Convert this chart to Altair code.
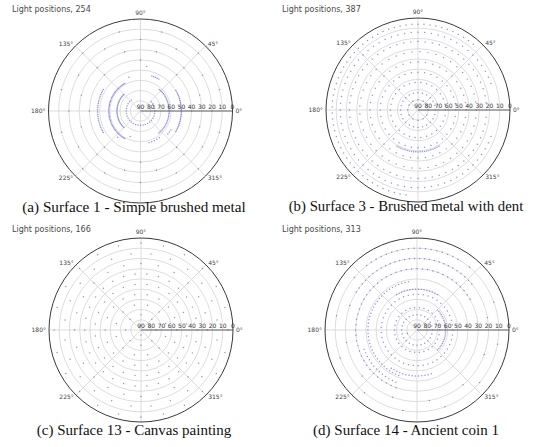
import altair as alt
import pandas as pd
import math

# ---- light positions: (elevation in degrees, azimuths in degrees) ----
panel_a = [
    (76, [130, 140, 150, 160, 170, 180, 190, 200, 210, 220, 230, 240, 250, 260, 270, 280,
          290, 300, 310, 320, 330, 340, 350, 0, 10, 20, 30, 40]),
    (48, [150, 152.5, 155, 157.5, 160, 162.5, 165, 167.5, 170, 172.5, 175, 177.5, 180,
          182.5, 185, 187.5, 190, 192.5, 195, 197.5, 200, 202.5, 205, 207.5, 210]),
    (59, [120, 122.5, 125, 127.5, 130, 132.5, 135, 137.5, 140, 142.5, 145, 147.5, 150,
          152.5, 155, 157.5, 160, 162.5, 165, 167.5, 170, 172.5, 175, 177.5, 180, 182.5,
          185, 187.5, 190, 192.5, 195, 197.5, 200, 202.5, 205, 207.5, 210, 212.5, 215,
          217.5, 220, 222.5, 225, 227.5, 230, 232.5, 235, 237.5, 240]),
    (67, [135, 138, 141, 144, 147, 150, 153, 156, 159, 162, 165, 168, 171, 174, 177, 180,
          183, 186, 189, 192, 195, 198, 201, 204, 207, 210, 213, 216, 219, 222, 225]),
    (62, [-50, -47, -44, -41, -38, -35, -32, -29, -26, -23, -20, -17, -14, -11, -8, -5, -2,
          1, 4, 7, 10, 13, 16, 19, 22, 25, 28, 31, 34, 37, 40, 43, 46, 49]),
    (50, [-30, -27.5, -25, -22.5, -20, -17.5, -15, -12.5, -10, -7.5, -5, -2.5, 0, 2.5, 5,
          7.5, 10, 12.5, 15, 17.5, 20, 22.5, 25, 27.5, 30]),
    (55, [-40, -36, -32, 109]),
    (54, [60, 63, 66, 69, 72]),
    (46, [82]),
    (58, [-55, -60, -65, -70, -75]),
    (63, [-112]),
    (56, [229]),
    (10, [15, 45, 75, 105, 135, 165, 195, 225, 255, 285, 315, 345]),
    (20, [0, 30, 60, 90, 120, 150, 180, 210, 240, 270, 300, 330]),
    (30, [15, 45, 75, 105, 135, 165, 195, 225, 255, 285, 315, 345]),
    (40, [0, 45, 90, 135, 180, 225, 270, 315]),
]

panel_b = [
    (6, [50, 54, 58, 62, 66, 70, 74, 78, 82, 86, 90, 94, 98, 102, 106, 110, 114, 118, 122,
         126, 130, 134, 138, 142, 146, 150, 154, 158, 162, 166, 170, 174, 178, 182, 186,
         190, 194, 198, 202, 206, 210, 214, 218, 222, 226, 230, 234, 238, 242, 246, 250,
         254, 258, 262]),
    (14, [20, 25, 30, 35, 40, 45, 50, 55, 60, 65, 70, 75, 80, 85, 90, 95, 100, 105, 110,
          115, 120, 125, 130, 135, 140, 145, 150, 155, 160, 165, 170, 175, 180, 185, 190,
          195, 200, 205, 210, 215, 220, 225, 230, 235, 240, 245, 250, 255, 260, 265, 270,
          275, 280, 285, 290, 295, 300, 305, 310, 315, 320, 325, 330, 335, 340]),
    (23, [0, 6, 12, 18, 24, 30, 36, 42, 48, 54, 60, 66, 72, 78, 84, 90, 96, 102, 108, 114,
          120, 126, 132, 138, 144, 150, 156, 162, 168, 174, 180, 186, 192, 198, 204, 210,
          216, 222, 228, 234, 240, 246, 252, 258, 264, 270, 276, 282, 288, 294, 300, 306,
          312, 318, 324, 330, 336, 342, 348, 354]),
    (33, [0, 8, 16, 24, 32, 40, 48, 56, 64, 72, 80, 88, 96, 104, 112, 120, 128, 136, 144,
          152, 160, 168, 176, 184, 192, 200, 208, 216, 224, 232, 240, 248, 256, 264, 272,
          280, 288, 296, 304, 312, 320, 328, 336, 344, 352]),
    (43, [0, 9, 18, 27, 36, 45, 54, 63, 72, 81, 90, 99, 108, 117, 126, 135, 144, 153, 162,
          171, 180, 189, 198, 207, 216, 225, 234, 243, 252, 261, 270, 279, 288, 297, 306,
          315, 324, 333, 342, 351]),
    (53, [0, 10, 20, 30, 40, 50, 60, 70, 80, 90, 100, 110, 120, 130, 140, 150, 160, 170,
          180, 190, 200, 210, 220, 230, 240, 250, 260, 270, 280, 290, 300, 310, 320, 330,
          340, 350]),
    (63, [0, 12, 24, 36, 48, 60, 72, 84, 96, 108, 120, 132, 144, 156, 168, 180, 192, 204,
          216, 228, 240, 252, 264, 276, 288, 300, 312, 324, 336, 348]),
    (73, [0, 15, 30, 45, 60, 75, 90, 105, 120, 135, 150, 165, 180, 195, 210, 225, 240, 255,
          270, 285, 300, 315, 330, 345]),
    (80, [0, 30, 60, 90, 120, 150, 180, 210, 240, 270, 300, 330]),
    (49, [240, 243, 246, 249, 252, 255, 258, 261, 264, 267, 270, 273, 276, 279, 282, 285,
          288, 291, 294, 297, 300]),
]

panel_c = [
    (5, [0, 15, 30, 45, 60, 75, 90, 105, 120, 135, 150, 165, 180, 195, 210, 225, 240, 255,
         270, 285, 300, 315, 330, 345]),
    (15, [7.5, 22.5, 37.5, 52.5, 67.5, 82.5, 97.5, 112.5, 127.5, 142.5, 157.5, 172.5,
          187.5, 202.5, 217.5, 232.5, 247.5, 262.5, 277.5, 292.5, 307.5, 322.5, 337.5,
          352.5]),
    (25, [0, 15, 30, 45, 60, 75, 90, 105, 120, 135, 150, 165, 180, 195, 210, 225, 240, 255,
          270, 285, 300, 315, 330, 345]),
    (35, [0, 12, 24, 36, 48, 60, 72, 84, 96, 108, 120, 132, 144, 156, 168, 180, 192, 204,
          216, 228, 240, 252, 264, 276, 288, 300, 312, 324, 336, 348]),
    (45, [7.5, 22.5, 37.5, 52.5, 67.5, 82.5, 97.5, 112.5, 127.5, 142.5, 157.5, 172.5,
          187.5, 202.5, 217.5, 232.5, 247.5, 262.5, 277.5, 292.5, 307.5, 322.5, 337.5,
          352.5]),
    (55, [0, 20, 40, 60, 80, 100, 120, 140, 160, 180, 200, 220, 240, 260, 280, 300, 320,
          340]),
    (65, [15, 45, 75, 105, 135, 165, 195, 225, 255, 285, 315, 345]),
    (75, [0, 45, 90, 135, 180, 225, 270, 315]),
    (85, [90, 270]),
]

panel_d = [
    (10, [60, 64, 68, 72, 76, 80, 84, 88, 92, 96, 100, 104, 108, 112, 116, 120, 124, 128,
          140, 170, 200, 230, 260, 290, 320, 350, 20, 50]),
    (20, [40, 44, 48, 52, 56, 60, 64, 68, 72, 76, 80, 84, 88, 92, 96, 100, 104, 108, 112,
          116, 120, 124, 128, 132, 136, 140, 144, 148, 160, 190, 220, 250, 280, 310, 340,
          10]),
    (30, [30, 35, 40, 45, 50, 55, 60, 65, 70, 75, 80, 85, 90, 95, 100, 105, 110, 115, 120,
          125, 130, 135, 140, 145, 150, 155, 160, 165, 170, 175, 180, 185, 190, 195, 200,
          205, 210, 215, 220, 225, 230, 235, 240, 245, 250]),
    (35, [200, 204, 208, 212, 216, 220, 224, 228, 232, 236, 240, 244, 248]),
    (42, [100, 104, 108, 112, 116, 120, 124, 128, 132, 136, 140, 144, 148, 152, 156, 160,
          164, 168, 172, 176, 180, 184, 188, 192, 196, 200, 204, 208, 212, 216, 220, 224,
          228, 232, 236, 240, 244, 248]),
    (45, [236, 240, 244, 248, 252, 256, 260, 264, 268, 272, 276, 280, 284, 288]),
    (50, [60, 64, 68, 72, 76, 80, 84, 88, 92, 96, 100, 104, 108, 112, 116, 120]),
    (55, [0, 8, 16, 24, 32, 40, 48, 56, 64, 72, 80, 88, 96, 104, 112, 120, 128, 136, 144,
          152, 160, 168, 176, 184, 192, 200, 208, 216, 224, 232, 240, 248, 256, 264, 272,
          280, 288, 296, 304, 312, 320, 328, 336, 344, 352]),
    (62, [-44, -40, -36, -32, -28, -24, -20, -16, -12, -8, -4, 0, 4, 8, 12, 16, 20, 24, 28,
          32, 36, 40, 44]),
    (68, [0, 12, 24, 36, 48, 60, 72, 84, 96, 108, 120, 132, 144, 156, 168, 180, 192, 204,
          216, 228, 240, 252, 264, 276, 288, 300, 312, 324, 336, 348]),
    (75, [0, 15, 30, 45, 60, 75, 90, 105, 120, 135, 150, 165, 180, 195, 210, 225, 240, 255,
          270, 285, 300, 315, 330, 345]),
    (80, [200]),
]

titles = ["Light positions, 254", "Light positions, 387",
          "Light positions, 166", "Light positions, 313"]
captions = ["(a) Surface 1 - Simple brushed metal",
            "(b) Surface 3 - Brushed metal with dent",
            "(c) Surface 13 - Canvas painting",
            "(d) Surface 14 - Ancient coin 1"]
ring_levels = [10, 20, 30, 40, 50, 60, 70, 80]
radial_ticks = [90, 80, 70, 60, 50, 40, 30, 20, 10, 0]
angle_ticks = [0, 45, 90, 135, 180, 225, 315]
spoke_angles = [0, 45, 90, 135]

PANEL_W = 268
R = 92.0
K = R / 90.0  # px per unit of (90 - elevation)


def to_xy(rad_units, az_deg):
    a = math.radians(az_deg)
    return rad_units * math.cos(a), rad_units * math.sin(a)


def panel(rings, title, caption, cx, cy, h, title_x, title_y, cap_x, cap_size):
    rows = []
    for elev, azs in rings:
        for az in azs:
            x, y = to_xy(90 - elev, az)
            rows.append({"x": x, "y": y})
    dots = pd.DataFrame(rows)

    xs = alt.Scale(domain=[-cx / K, (PANEL_W - cx) / K], nice=False, zero=False)
    ys = alt.Scale(domain=[-(h - cy) / K, cy / K], nice=False, zero=False)
    X = lambda f: alt.X(f, type="quantitative", scale=xs, axis=None)
    Y = lambda f: alt.Y(f, type="quantitative", scale=ys, axis=None)

    rings_df = pd.DataFrame({"x": 0.0, "y": 0.0,
                             "s": [(2 * r * K) ** 2 for r in ring_levels]})
    grid = alt.Chart(rings_df).mark_point(
        shape="circle", filled=False, stroke="#d4d4d4", strokeWidth=0.8, opacity=1
    ).encode(x=X("x"), y=Y("y"), size=alt.Size("s:Q", scale=None))

    outer = alt.Chart(pd.DataFrame({"x": [0.0], "y": [0.0], "s": [(2 * R) ** 2]})).mark_point(
        shape="circle", filled=False, stroke="#3a3a3a", strokeWidth=1.0, opacity=1
    ).encode(x=X("x"), y=Y("y"), size=alt.Size("s:Q", scale=None))

    sp = []
    for a in spoke_angles:
        x1, y1 = to_xy(90, a)
        sp.append({"x": x1, "y": y1, "x2": -x1, "y2": -y1})
    spokes = alt.Chart(pd.DataFrame(sp)).mark_rule(color="#d4d4d4", strokeWidth=0.8).encode(
        x=X("x"), y=Y("y"), x2="x2", y2="y2")

    axis_line = alt.Chart(pd.DataFrame({"x": [0.0], "y": [0.0], "x2": [90.0], "y2": [0.0]})).mark_rule(
        color="#555555", strokeWidth=0.9).encode(x=X("x"), y=Y("y"), x2="x2", y2="y2")

    pts = alt.Chart(dots).mark_circle(size=2.2, color="#6464dc", opacity=0.7).encode(
        x=X("x"), y=Y("y"))

    rl = pd.DataFrame({"v": radial_ticks})
    rl["x"] = 90 - rl["v"]
    rl["y"] = 0.0
    rl["t"] = rl["v"].astype(str)
    rlabels = alt.Chart(rl).mark_text(fontSize=6, font="DejaVu Sans", color="#333333",
                                      baseline="bottom", dy=-1).encode(
        x=X("x"), y=Y("y"), text="t:N")

    al = []
    for a in angle_ticks:
        x1, y1 = to_xy(90 + 3 / K, a)
        al.append({"x": x1, "y": y1, "t": f"{a}°",
                   "al": "left" if a in (0, 45, 315) else ("center" if a == 90 else "right")})
    al_df = pd.DataFrame(al)
    alabels = []
    for align in ("left", "center", "right"):
        sub = al_df[al_df["al"] == align]
        alabels.append(alt.Chart(sub).mark_text(
            fontSize=6, font="DejaVu Sans", color="#444444", align=align,
            baseline="bottom" if align == "center" else "middle").encode(
            x=X("x"), y=Y("y"), text="t:N"))

    ttl = alt.Chart(pd.DataFrame({"t": [title]})).mark_text(
        fontSize=8, font="DejaVu Sans", color="#4a4a4a", align="left", baseline="middle"
    ).encode(x=alt.value(title_x), y=alt.value(title_y), text="t:N")
    cap = alt.Chart(pd.DataFrame({"t": [caption]})).mark_text(
        fontSize=cap_size, font="Liberation Serif", color="#111111", align="center",
        baseline="middle"
    ).encode(x=alt.value(cap_x), y=alt.value(207), text="t:N")

    return alt.layer(grid, spokes, axis_line, outer, pts, rlabels, *alabels, ttl, cap).properties(
        width=PANEL_W, height=h)


pa = panel(panel_a, titles[0], captions[0], 140.5, 111, 223, 12, 10, 134, 15.2)
pb = panel(panel_b, titles[1], captions[1], 150, 110, 223, 14, 10, 138, 14.8)
pc = panel(panel_c, titles[2], captions[2], 141, 107, 224, 12, 7, 134, 15)
pd_ = panel(panel_d, titles[3], captions[3], 149, 107, 224, 14, 7, 138, 15)

chart = alt.vconcat(
    alt.hconcat(pa, pb, spacing=0),
    alt.hconcat(pc, pd_, spacing=0),
    spacing=0,
).properties(padding=0, background="white").configure_view(stroke=None).configure_concat(spacing=0)

chart.save("out.html", embed_options={"renderer": "svg", "actions": False})
